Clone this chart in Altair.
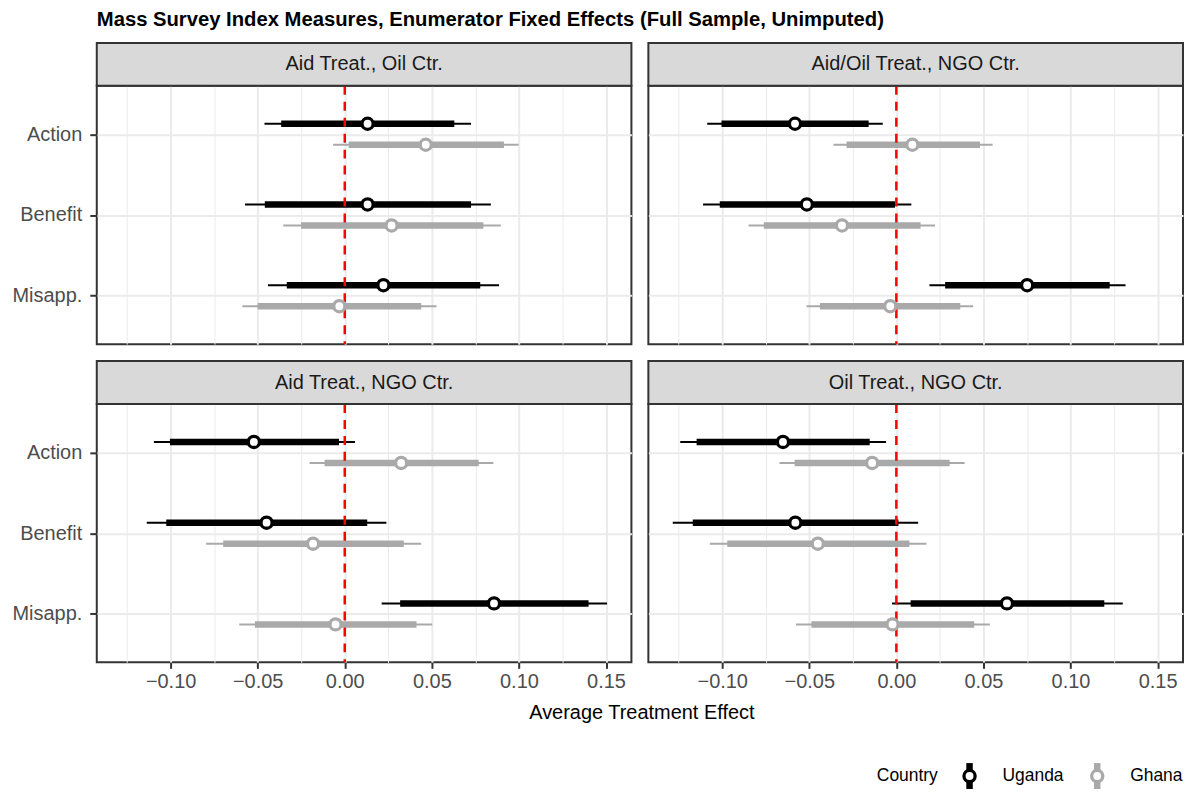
import json
import altair as alt
import pandas as pd

FONT = "Liberation Sans"

title_text = "Mass Survey Index Measures, Enumerator Fixed Effects (Full Sample, Unimputed)"
x_title = "Average Treatment Effect"
legend_title = "Country"

panels = ["Aid Treat., Oil Ctr.", "Aid/Oil Treat., NGO Ctr.",
          "Aid Treat., NGO Ctr.", "Oil Treat., NGO Ctr."]
outcomes = ["Action", "Benefit", "Misapp."]
countries = ["Uganda", "Ghana"]
country_colors = ["#000000", "#a9a9a9"]

# order: panel -> outcome -> country (Uganda, Ghana)
estimate = [
    0.0131, 0.0465, 0.0131, 0.0269, 0.0222, -0.0031,
    -0.0582, 0.0092, -0.0514, -0.0312, 0.0751, -0.0035,
    -0.0522, 0.0324, -0.0449, -0.0182, 0.0857, -0.0053,
    -0.0651, -0.0139, -0.0580, -0.0451, 0.0635, -0.0022,
]
ci95_low = [
    -0.0461, -0.0067, -0.0573, -0.0353, -0.0441, -0.0588,
    -0.1086, -0.0361, -0.1110, -0.0849, 0.0190, -0.0516,
    -0.1096, -0.0202, -0.1137, -0.0796, 0.0212, -0.0606,
    -0.1241, -0.0671, -0.1284, -0.1071, -0.0025, -0.0576,
]
ci95_high = [
    0.0725, 0.0998, 0.0839, 0.0896, 0.0886, 0.0527,
    -0.0078, 0.0553, 0.0086, 0.0222, 0.1316, 0.0441,
    0.0059, 0.0853, 0.0239, 0.0439, 0.1506, 0.0502,
    -0.0059, 0.0392, 0.0125, 0.0173, 0.1300, 0.0537,
]
ci90_low = [
    -0.0365, 0.0022, -0.0459, -0.0251, -0.0333, -0.0500,
    -0.1004, -0.0286, -0.1014, -0.0761, 0.0280, -0.0439,
    -0.1004, -0.0116, -0.1025, -0.0698, 0.0318, -0.0516,
    -0.1147, -0.0584, -0.1169, -0.0971, 0.0082, -0.0488,
]
ci90_high = [
    0.0629, 0.0914, 0.0725, 0.0796, 0.0778, 0.0439,
    -0.0159, 0.0480, -0.0008, 0.0139, 0.1225, 0.0367,
    -0.0033, 0.0769, 0.0129, 0.0339, 0.1400, 0.0412,
    -0.0153, 0.0306, 0.0012, 0.0075, 0.1194, 0.0447,
]
ref_line = [0.0]
x_tick_values = [-0.125, -0.1, -0.075, -0.05, -0.025, 0.0,
                 0.025, 0.05, 0.075, 0.1, 0.125, 0.15]

rows = []
i = 0
for p in panels:
    for o in outcomes:
        for c in countries:
            rows.append({"panel": p, "outcome": o, "country": c,
                         "estimate": estimate[i], "lo95": ci95_low[i], "hi95": ci95_high[i],
                         "lo90": ci90_low[i], "hi90": ci90_high[i]})
            i += 1
df = pd.DataFrame(rows)
ref_df = pd.DataFrame({"ref": ref_line})

PW, PH, SH = 536, 259, 43
GAP = 17
dodge = 0.13
FS = 20

cscale = alt.Scale(domain=countries, range=country_colors)
xscale = alt.Scale(domain=[-0.1424, 0.1646], nice=False, zero=False)
yscale = alt.Scale(domain=[-0.6, 2.6], reverse=True, nice=False, zero=False)

minor_test = "round(datum.value * 40) % 2 != 0"
grid_w = {"condition": {"test": minor_test, "value": 1}, "value": 2}


def x_axis(show, with_title):
    if show:
        kw = dict(values=x_tick_values, grid=True, gridColor="#ebebeb", gridWidth=grid_w,
                  domain=False, labels=True,
                  labelExpr=f"{minor_test} ? '' : format(datum.value, '.2f')",
                  labelFontSize=FS, labelColor="#4d4d4d", labelPadding=3,
                  labelFlush=False, labelOverlap=False,
                  ticks=True, tickColor="#333333", tickWidth=2, tickSize=6,
                  tickOpacity={"condition": {"test": minor_test, "value": 0}, "value": 1})
        if with_title:
            kw.update(title=x_title, titleX=546, titleY=56, titleAlign="center",
                      titleBaseline="alphabetic", titleFontSize=FS, titleFontWeight="normal",
                      titleColor="#000000")
        else:
            kw.update(title=None)
        return alt.Axis(**kw)
    return alt.Axis(values=x_tick_values, grid=True, gridColor="#ebebeb", gridWidth=grid_w,
                    domain=False, title=None, labels=False, ticks=False)


label_expr = f"{json.dumps(outcomes)}[datum.value]"


def y_axis(show):
    if show:
        return alt.Axis(values=[0, 1, 2], grid=True, gridColor="#ebebeb", gridWidth=2,
                        domain=False, title=None, labelExpr=label_expr,
                        labelFontSize=FS, labelColor="#4d4d4d", labelPadding=8,
                        ticks=True, tickColor="#333333", tickWidth=2, tickSize=7)
    return alt.Axis(values=[0, 1, 2], grid=True, gridColor="#ebebeb", gridWidth=2,
                    domain=False, title=None, labels=False, ticks=False)


ypos_expr = (f"indexof({json.dumps(outcomes)}, datum.outcome) + "
             f"(datum.country === 'Uganda' ? {-dodge} : {dodge})")


def legend_layer(ly):
    leg_df = pd.DataFrame({"country": countries})
    xleg = alt.X("country:N",
                 scale=alt.Scale(type="point", domain=countries, range=[322, 450], padding=0),
                 axis=None)
    leg_bar = alt.Chart(leg_df).mark_rule(strokeWidth=6.5).encode(
        x=xleg, y=alt.value(ly - 13), y2=alt.value(ly + 13),
        color=alt.Color("country:N", scale=cscale, legend=None))
    leg_pt = alt.Chart(leg_df).mark_point(shape="circle", filled=True, fill="white", size=125,
                                          strokeWidth=3.3, opacity=1).encode(
        x=xleg, y=alt.value(ly), stroke=alt.Stroke("country:N", scale=cscale, legend=None))
    leg_txt = alt.Chart(leg_df).mark_text(fontSize=17.5, align="left", dx=33,
                                          color="#000000").encode(
        x=xleg, y=alt.value(ly), text="country:N")
    leg_ttl = alt.Chart(pd.DataFrame({"t": [legend_title]})).mark_text(
        fontSize=17.5, align="left", color="#000000").encode(
        text="t:N", x=alt.value(229), y=alt.value(ly))
    return alt.layer(leg_bar, leg_pt, leg_txt, leg_ttl)


def panel(idx, show_x, show_y, x_ttl=False, with_legend=False):
    p = panels[idx]
    strip_df = pd.DataFrame({"panel": [p]})
    strip_bg = alt.Chart(strip_df).mark_rect(fill="#d9d9d9", stroke="#333333", strokeWidth=2).encode(
        x=alt.value(0), x2=alt.value(PW), y=alt.value(-SH), y2=alt.value(0))
    strip_txt = alt.Chart(strip_df).mark_text(fontSize=FS, color="#1a1a1a").encode(
        text="panel:N", x=alt.value(PW / 2), y=alt.value(-SH / 2))

    base = alt.Chart(df).transform_filter(
        alt.FieldEqualPredicate(field="panel", equal=p)
    ).transform_calculate(ypos=ypos_expr)
    color = alt.Color("country:N", scale=cscale, legend=None)
    thin = base.mark_rule(strokeWidth=2).encode(
        x=alt.X("lo95:Q", scale=xscale, axis=x_axis(show_x, x_ttl)),
        x2="hi95:Q",
        y=alt.Y("ypos:Q", scale=yscale, axis=y_axis(show_y)),
        color=color,
    )
    thick = base.mark_rule(strokeWidth=6.5).encode(
        x="lo90:Q", x2="hi90:Q", y="ypos:Q", color=color)
    vline = alt.Chart(ref_df).mark_rule(color="#ff0000", strokeDash=[9, 7], strokeWidth=2.5).encode(
        x="ref:Q")
    pts = base.mark_point(shape="circle", filled=True, fill="white", size=125,
                          strokeWidth=3.3, opacity=1).encode(
        x="estimate:Q", y="ypos:Q",
        stroke=alt.Stroke("country:N", scale=cscale, legend=None))
    main = alt.layer(thin, thick, vline, pts, strip_bg, strip_txt)
    if with_legend:
        return alt.layer(main, legend_layer(PH + SH + 71)).resolve_scale(
            x="independent").properties(width=PW, height=PH)
    return main.properties(width=PW, height=PH)


chart = alt.concat(
    panel(0, False, True),
    panel(1, False, False),
    panel(2, True, True, x_ttl=True),
    panel(3, True, False, with_legend=True),
    columns=2, spacing={"row": GAP + SH, "column": GAP}, bounds="flush",
    title=alt.TitleParams(title_text, anchor="start", frame="group",
                          fontSize=20.3, fontWeight="bold", color="#000000", offset=11),
).properties(
    padding={"left": 2, "top": 0, "right": 0, "bottom": 0}
).configure_view(
    stroke="#333333", strokeWidth=2
).configure_axis(
    labelFont=FONT, titleFont=FONT
).configure_text(font=FONT).configure_title(font=FONT)

chart.save("out.html", embed_options={"renderer": "svg", "actions": False})
